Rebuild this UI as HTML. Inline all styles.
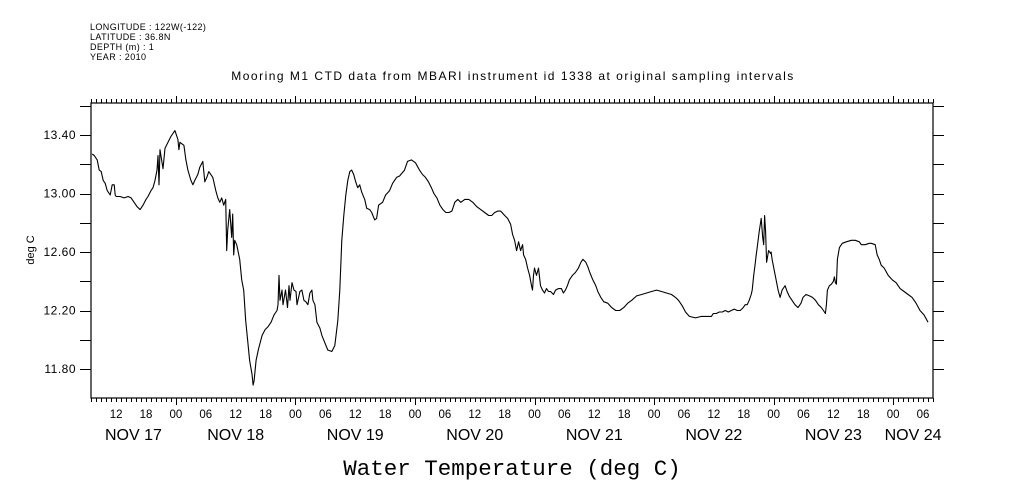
<!DOCTYPE html>
<html><head><meta charset="utf-8"><style>
html,body{margin:0;padding:0;background:#fff;}
svg{display:block;font-family:"Liberation Sans",sans-serif;}
</style></head><body>
<svg id="chart" width="1009" height="504" viewBox="0 0 1009 504" xmlns="http://www.w3.org/2000/svg">
<g font-size="9" letter-spacing="0.4" fill="#000">
<text x="90" y="30">LONGITUDE : 122W(-122)</text>
<text x="90" y="40">LATITUDE : 36.8N</text>
<text x="90" y="50">DEPTH (m) : 1</text>
<text x="90" y="60">YEAR : 2010</text>
</g>
<text x="513" y="80" font-size="12" letter-spacing="1.5" text-anchor="middle">Mooring M1 CTD data from MBARI instrument id 1338 at original sampling intervals</text>
<text transform="translate(34,250) rotate(-90)" font-size="11" text-anchor="middle">deg C</text>
<text x="512" y="475" font-family="'Liberation Mono',monospace" font-size="22.5" text-anchor="middle">Water Temperature (deg C)</text>
<g id="axes"></g>
<g id="series"></g>
</svg>
<script>
const hours=[7.2,7.6,8.2,8.6,9.0,9.4,9.8,10.2,10.8,11.2,11.6,11.8,12.0,12.8,13.6,14.4,15.0,15.6,16.2,16.8,17.4,18.0,18.4,19.0,19.4,19.8,20.2,20.4,20.6,20.8,21.4,21.8,22.4,23.0,23.8,24.4,24.6,24.8,25.6,26.0,26.4,27.0,27.4,27.8,28.4,28.8,29.4,29.8,30.2,30.6,31.4,32.0,32.4,32.8,33.2,33.6,34.0,34.2,34.4,34.8,35.2,35.4,35.6,35.8,36.2,36.8,37.2,37.6,38.0,38.4,38.8,39.3,39.5,39.7,40.1,40.6,41.3,41.9,42.5,43.1,43.7,44.3,44.5,44.7,44.9,45.3,45.5,46.0,46.4,46.7,46.9,47.3,47.7,48.1,48.3,48.9,49.3,49.7,50.1,50.5,50.9,51.3,51.5,51.9,52.3,52.9,53.3,53.9,54.5,55.3,55.9,56.5,56.9,57.3,57.7,58.1,58.5,58.9,59.3,59.7,60.1,60.5,60.9,61.3,61.9,62.3,62.9,63.3,63.9,64.3,64.7,65.5,66.1,66.9,67.5,68.3,68.9,69.9,70.5,71.3,72.1,72.9,73.5,74.1,74.7,75.3,75.8,76.4,77.0,77.6,78.2,78.8,79.4,80.0,80.6,81.2,82.0,82.8,83.6,84.4,85.2,86.0,86.8,87.4,88.0,88.6,89.2,90.0,90.6,91.2,91.6,92.0,92.4,92.8,93.2,93.6,93.8,94.2,94.6,95.0,95.4,95.6,95.8,96.0,96.4,96.8,97.2,97.6,98.0,98.4,98.8,99.2,99.8,100.2,100.8,101.4,101.8,102.2,102.6,103.0,103.6,104.2,104.8,105.3,105.7,106.3,106.7,107.1,107.7,108.3,108.7,109.3,109.9,110.7,111.5,112.3,113.1,113.9,114.7,115.5,116.5,117.5,118.5,119.5,120.5,121.5,122.5,123.5,124.3,124.9,125.7,126.3,127.1,128.3,129.5,130.7,131.5,131.9,132.5,133.1,133.7,134.3,134.9,135.5,136.1,136.7,137.3,137.9,138.3,138.7,139.1,139.5,139.7,140.0,140.3,140.5,140.7,141.1,141.5,141.8,142.0,142.2,142.4,142.6,143.0,143.4,143.5,143.7,144.1,144.5,144.9,145.3,145.7,146.3,146.7,147.1,147.7,148.3,148.9,149.5,149.9,150.5,151.2,151.8,152.4,153.0,153.6,154.0,154.4,154.6,154.8,155.2,155.6,156.0,156.2,156.4,156.6,156.8,157.2,157.8,158.6,159.6,160.4,161.2,161.6,162.4,163.2,163.6,164.4,164.8,165.2,165.6,166.2,167.0,167.8,168.6,169.4,170.2,171.0,171.8,172.6,173.4,174.2,175.0];
const temps=[13.27,13.26,13.23,13.16,13.15,13.09,13.07,13.02,12.99,13.06,13.06,12.99,12.98,12.98,12.97,12.98,12.97,12.94,12.91,12.89,12.92,12.96,12.98,13.02,13.04,13.09,13.16,13.26,13.06,13.30,13.17,13.31,13.35,13.39,13.43,13.37,13.30,13.35,13.33,13.23,13.16,13.09,13.06,13.09,13.13,13.18,13.22,13.08,13.11,13.15,13.11,13.02,12.97,12.94,12.97,12.92,12.96,12.61,12.75,12.89,12.70,12.86,12.58,12.68,12.65,12.55,12.41,12.34,12.13,12.00,11.86,11.76,11.69,11.72,11.86,11.94,12.03,12.07,12.09,12.12,12.17,12.20,12.24,12.44,12.27,12.34,12.24,12.34,12.22,12.37,12.27,12.39,12.34,12.33,12.24,12.33,12.34,12.27,12.26,12.24,12.32,12.34,12.27,12.24,12.12,12.08,12.03,11.98,11.93,11.92,11.96,12.13,12.34,12.68,12.85,12.99,13.09,13.15,13.16,13.13,13.08,13.04,13.06,13.01,12.96,12.90,12.89,12.87,12.82,12.83,12.92,12.94,12.99,13.02,13.07,13.11,13.12,13.16,13.22,13.23,13.21,13.16,13.13,13.11,13.08,13.04,13.00,12.97,12.92,12.89,12.87,12.87,12.88,12.94,12.96,12.94,12.96,12.96,12.94,12.91,12.89,12.87,12.85,12.85,12.87,12.88,12.88,12.85,12.83,12.79,12.72,12.68,12.61,12.67,12.61,12.65,12.58,12.55,12.49,12.44,12.37,12.34,12.44,12.49,12.44,12.49,12.37,12.34,12.32,12.35,12.33,12.33,12.31,12.34,12.35,12.35,12.32,12.34,12.37,12.41,12.44,12.46,12.49,12.53,12.55,12.53,12.50,12.46,12.41,12.37,12.33,12.29,12.26,12.25,12.22,12.20,12.20,12.22,12.25,12.27,12.30,12.31,12.32,12.33,12.34,12.33,12.32,12.31,12.29,12.27,12.23,12.19,12.16,12.15,12.16,12.16,12.16,12.18,12.18,12.19,12.19,12.20,12.19,12.20,12.21,12.20,12.20,12.22,12.24,12.24,12.27,12.31,12.34,12.44,12.52,12.58,12.63,12.74,12.83,12.70,12.65,12.85,12.74,12.53,12.61,12.59,12.60,12.55,12.48,12.41,12.34,12.29,12.34,12.37,12.33,12.30,12.27,12.24,12.22,12.25,12.29,12.31,12.30,12.29,12.27,12.24,12.22,12.20,12.18,12.24,12.34,12.37,12.38,12.40,12.43,12.39,12.38,12.55,12.63,12.66,12.67,12.68,12.68,12.67,12.65,12.65,12.66,12.66,12.65,12.58,12.55,12.51,12.49,12.44,12.41,12.39,12.35,12.33,12.31,12.29,12.25,12.20,12.17,12.12];
const yTickValues=[11.80,12.20,12.60,13.00,13.40];
const yTickLabels=["11.80","12.20","12.60","13.00","13.40"];
const hourLabels=["12","18","00","06","12","18","00","06","12","18","00","06","12","18","00","06","12","18","00","06","12","18","00","06","12","18","00","06"];
const hourLabelTimes=[12,18,24,30,36,42,48,54,60,66,72,78,84,90,96,102,108,114,120,126,132,138,144,150,156,162,168,174];
const dayLabels=["NOV 17","NOV 18","NOV 19","NOV 20","NOV 21","NOV 22","NOV 23","NOV 24"];

const L=91,R=933,T=103,B=398;
const tMin=6.95,tMax=176.0,vMin=11.602,vMax=13.619;
const xs=t=>L+(t-tMin)/(tMax-tMin)*(R-L);
const ys=v=>B-(v-vMin)/(vMax-vMin)*(B-T);
const NS="http://www.w3.org/2000/svg";
function mk(tag,attrs,parent){const e=document.createElementNS(NS,tag);for(const k in attrs)e.setAttribute(k,attrs[k]);parent.appendChild(e);return e;}
const ax=document.getElementById('axes');
const frame=mk('rect',{x:L,y:T,width:R-L,height:B-T,fill:'none',stroke:'#000','stroke-width':1.2},ax);


for(let h=Math.ceil(tMin);h<=tMax;h++){
  const x=Math.round(xs(h))+0.5, big=(h%24===0), len=big?7:4;
  const tb=mk('line',{x1:x,x2:x,y1:B,y2:B+len,stroke:'#000','stroke-width':1},ax);
  
  
  const tt=mk('line',{x1:x,x2:x,y1:T,y2:T-len,stroke:'#000','stroke-width':1},ax);
  
  
}
hourLabels.forEach((s,i)=>{
  const t=mk('text',{x:xs(hourLabelTimes[i]),y:418,'font-size':11.5,'text-anchor':'middle'},ax);
  t.textContent=s;
  
  
});
dayLabels.forEach((s,i)=>{
  const a=Math.max(tMin,i*24),b=Math.min(tMax,(i+1)*24);
  const t=mk('text',{x:(xs(a)+xs(b))/2,y:440,'font-size':16,'text-anchor':'middle'},ax);
  t.textContent=s;
  
  
});
for(let v=11.8;v<=13.61;v+=0.2){
  const y=Math.round(ys(v))+0.5;
  const tl=mk('line',{x1:L-11,x2:L,y1:y,y2:y,stroke:'#000','stroke-width':1},ax);
  
  
  const tr=mk('line',{x1:R,x2:R+11,y1:y,y2:y,stroke:'#000','stroke-width':1},ax);
  
  
}
yTickValues.forEach((v,i)=>{
  const t=mk('text',{x:76,y:ys(v)+4,'font-size':12,'letter-spacing':0.5,'text-anchor':'end'},ax);
  t.textContent=yTickLabels[i];
  
  
});
const d=hours.map((h,i)=>(i?'L':'M')+xs(h).toFixed(1)+' '+ys(temps[i]).toFixed(1)).join(' ');
const p=mk('path',{d:d,fill:'none',stroke:'#000','stroke-width':1.1,'stroke-linejoin':'round'},document.getElementById('series'));


</script>
</body></html>
